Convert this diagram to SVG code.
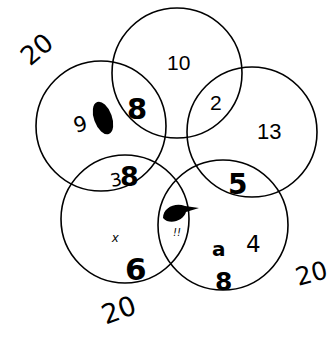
<svg xmlns="http://www.w3.org/2000/svg" width="334" height="338" viewBox="0 0 334 338">
<style>
.c{fill:none;stroke:#000;stroke-width:1.6}
.t{font-family:"Liberation Sans",Arial,sans-serif;fill:#000}
.h{font-family:"DejaVu Sans","Liberation Sans",sans-serif;fill:#000}
.b{font-weight:bold}
.blob{fill:#000}
</style>
<rect width="334" height="338" fill="#fff"/>
<g id="circles">
<g id="top"><circle class="c" cx="177" cy="73" r="65"/></g>
<g id="left"><circle class="c" cx="101" cy="126" r="65"/></g>
<g id="right"><circle class="c" cx="252" cy="132" r="65"/></g>
<g id="lowerleft"><circle class="c" cx="125" cy="219" r="64"/></g>
<g id="lowerright"><circle class="c" cx="223" cy="225" r="65"/></g>
</g>
<g id="labels">
<text class="h" x="18" y="58" font-size="26" transform="rotate(-40 36 46)">20</text>
<text class="t" x="167" y="70" font-size="21">10</text>
<text class="h b" x="127" y="119" font-size="29">8</text>
<text class="t" x="210" y="110" font-size="21">2</text>
<text class="t" x="257" y="139" font-size="22">13</text>
<text class="h" x="73" y="131" font-size="21" transform="rotate(-15 82 122)">9</text>
<ellipse class="blob" cx="103" cy="118" rx="9" ry="17" transform="rotate(-20 103 118)"/>
<text class="h" x="110" y="186" font-size="18" transform="rotate(-10 117 178)">3</text>
<text class="h b" x="120" y="186" font-size="27">8</text>
<text class="h b" x="228" y="194" font-size="28">5</text>
<path class="blob" d="M163,218 C163,208 175,202 185,206 L199,208 L186,212 C184,220 170,226 163,218 Z"/>
<text class="h" x="173" y="236" font-size="10" font-style="italic">!!</text>
<text class="t" x="112" y="242" font-size="13" font-style="italic">x</text>
<text class="h b" x="125" y="280" font-size="31">6</text>
<text class="h b" x="212" y="256" font-size="20">a</text>
<text class="h b" x="215" y="290" font-size="25">8</text>
<text class="h" x="246" y="252" font-size="23">4</text>
<text class="h" x="295" y="283" font-size="25" transform="rotate(-15 308 272)">20</text>
<text class="h" x="100" y="320" font-size="27" transform="rotate(-20 116 306)">20</text>
</g>
</svg>
